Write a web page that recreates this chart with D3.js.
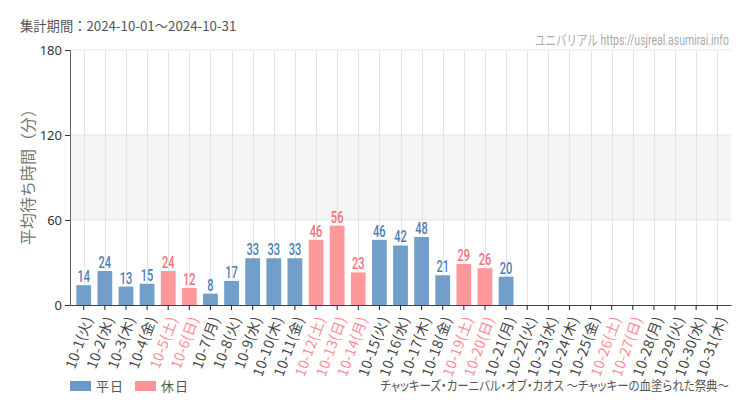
<!DOCTYPE html>
<html><head><meta charset="utf-8">
<script src="https://cdn.jsdelivr.net/npm/d3@7"></script>
<style>
body{margin:0;background:#fff;}
text{font-family:"Noto Sans CJK JP","Noto Sans",sans-serif;}
</style>
</head><body>
<svg id="c" width="750" height="410"></svg>
<script>
const days = d3.range(1, 32).map(d => "10-" + d);
const weekdays = ["火","水","木","金","土","日","月","火","水","木","金","土","日","月","火","水","木","金","土","日","月","火","水","木","金","土","日","月","火","水","木"];
const values = [14,24,13,15,24,12,8,17,33,33,33,46,56,23,46,42,48,21,29,26,20,null,null,null,null,null,null,null,null,null,null];
const holidays = ["10-5","10-6","10-12","10-13","10-14","10-19","10-20","10-26","10-27"];
const yTicks = [0,60,120,180];
const titleText = "集計期間：2024-10-01～2024-10-31";
const yLabel = "平均待ち時間（分）";
const watermark = "ユニバリアル  https://usjreal.asumirai.info";
const caption = "チャッキーズ・カーニバル・オブ・カオス ～チャッキーの血塗られた祭典～";
const legendItems = ["平日","休日"];

const svg = d3.select("#c");
const m = {l:70, r:731, t:50, b:305};
const x = d3.scaleBand().domain(days).range([m.l, m.r]).padding(0.3);
const y = d3.scaleLinear().domain([0,180]).range([m.b, m.t]);
const blue = "#6a9ac7", pink = "#ff9296";
const blueTxt = "#4a80b8", pinkTxt = "#f57078";
const isHol = d => holidays.includes(d);

function fitWidth(sel, ax, ay, target) {
  const w = sel.node().getComputedTextLength();
  const s = target / w;
  sel.attr("transform", `translate(${ax},${ay}) scale(${s},1) translate(${-ax},${-ay})`);
}

svg.append("rect").attr("x", m.l).attr("width", m.r - m.l)
  .attr("y", y(120)).attr("height", y(60) - y(120)).attr("fill", "#f4f4f4");

svg.append("g").selectAll("line").data(yTicks.filter(v => v > 0)).join("line")
  .attr("x1", m.l).attr("x2", m.r).attr("y1", d => y(d)).attr("y2", d => y(d))
  .attr("stroke", "#e4e4e4").attr("stroke-width", 1);

svg.append("g").selectAll("line").data(days).join("line")
  .attr("x1", d => Math.round(x(d) + x.bandwidth()/2) + 0.5)
  .attr("x2", d => Math.round(x(d) + x.bandwidth()/2) + 0.5)
  .attr("y1", m.t).attr("y2", m.b)
  .attr("stroke", "#e4e4e4").attr("stroke-width", 1);

const data = days.map((d, i) => ({d, v: values[i], w: weekdays[i]}));

svg.append("g").selectAll("rect").data(data.filter(e => e.v != null)).join("rect")
  .attr("x", e => x(e.d)).attr("width", x.bandwidth())
  .attr("y", e => y(e.v)).attr("height", e => y(0) - y(e.v))
  .attr("fill", e => isHol(e.d) ? pink : blue).attr("fill-opacity", 0.95);

const cx = e => x(e.d) + x.bandwidth()/2;
svg.append("g").selectAll("text").data(data.filter(e => e.v != null)).join("text")
  .attr("x", cx).attr("y", e => y(e.v) - 3)
  .attr("text-anchor", "middle")
  .style("font-family", "'Roboto','Noto Sans',sans-serif")
  .style("font-size", "17px").style("font-weight", "500")
  .attr("fill", e => isHol(e.d) ? pinkTxt : blueTxt)
  .attr("transform", e => `translate(${cx(e)},${y(e.v) - 3}) scale(0.65,1) translate(${-cx(e)},${-(y(e.v) - 3)})`)
  .text(e => e.v);

const yAxis = svg.append("g").attr("transform", `translate(${m.l},0)`)
  .call(d3.axisLeft(y).tickValues(yTicks).tickSize(5).tickPadding(3));
yAxis.select(".domain").attr("stroke", "#666");
yAxis.selectAll(".tick line").attr("stroke", "#333");
yAxis.selectAll("text").style("font-family", "'Noto Sans','Roboto',sans-serif")
  .style("font-size", "13px").attr("fill", "#333");

const xAxis = svg.append("g").attr("transform", `translate(0,${m.b})`)
  .call(d3.axisBottom(x).tickSize(5).tickSizeOuter(0).tickFormat(() => ""));
xAxis.select(".domain").attr("stroke", "#444");
xAxis.selectAll(".tick line").attr("stroke", "#222");

svg.append("g").selectAll("text").data(data).join("text")
  .attr("transform", e => `translate(${cx(e) + 5},${m.b + 12}) rotate(-70)`)
  .attr("text-anchor", "end").attr("dy", "0.35em")
  .style("font-size", "14px").style("letter-spacing", "0.4px")
  .attr("fill", e => isHol(e.d) ? "#ff8a8f" : "#444")
  .text(e => `${e.d}(${e.w})`);

svg.append("text").attr("x", 20).attr("y", 31).style("font-size", "13.3px")
  .attr("fill", "#555").text(titleText);

const wm = svg.append("text").attr("x", 729).attr("y", 45).attr("text-anchor", "end")
  .style("font-family", "'Roboto','Noto Sans CJK JP',sans-serif")
  .style("font-size", "14px").attr("fill", "#aaa").text(watermark);
fitWidth(wm, 729, 45, 194);

svg.append("text").attr("transform", `translate(34,173) rotate(-90)`)
  .attr("text-anchor", "middle").style("font-size", "16px").attr("fill", "#777")
  .text(yLabel);

const lg = svg.append("g");
legendItems.forEach((t, i) => {
  const lx = 70 + i * 65;
  lg.append("rect").attr("x", lx).attr("y", 381).attr("width", 21).attr("height", 10)
    .attr("fill", i === 0 ? blue : pink);
  lg.append("text").attr("x", lx + 26).attr("y", 391).style("font-size", "13px")
    .style("letter-spacing", "1px")
    .attr("fill", "#555").text(t);
});

const cap = svg.append("text").attr("x", 729).attr("y", 390).attr("text-anchor", "end")
  .style("font-size", "13px").style("font-feature-settings", "'palt' 1")
  .attr("fill", "#555").text(caption);
fitWidth(cap, 729, 390, 349);
</script>
</body></html>
